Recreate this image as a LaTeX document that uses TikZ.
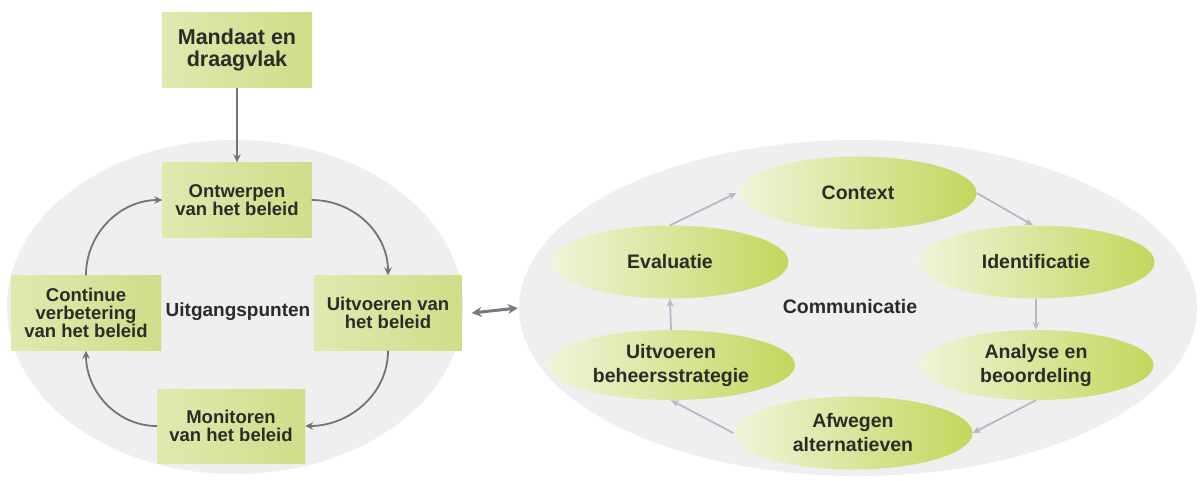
\documentclass[tikz,border=0pt]{standalone}
\usepackage{fontspec}
\setmainfont{Liberation Sans}
\usetikzlibrary{arrows.meta,shapes.geometric}
\definecolor{bggray}{HTML}{EFEFEF}
\definecolor{boxL}{HTML}{E0E9B0}
\definecolor{boxR}{HTML}{CEDE88}
\definecolor{ellL}{HTML}{F1F4DA}
\definecolor{ellR}{HTML}{C4D65C}
\definecolor{txt}{HTML}{2A2C28}
\definecolor{larrow}{HTML}{72747C}
\definecolor{rarrow}{HTML}{B2BACA}
\definecolor{darrow}{HTML}{767A82}
\tikzset{
  bgell/.style={ellipse, fill=bggray, inner sep=0pt},
  sqbox/.style={rectangle, left color=boxL, right color=boxR, inner sep=0pt,
    align=center, text=txt, font=\bfseries\fontsize{18.5}{18}\selectfont},
  topbox/.style={sqbox, font=\bfseries\fontsize{21.5}{22}\selectfont},
  gell/.style={ellipse, left color=ellL, right color=ellR, inner sep=0pt,
    minimum width=237pt, minimum height=73pt, align=center, text=txt,
    font=\bfseries\fontsize{19.5}{24}\selectfont},
  plain/.style={text=txt, font=\bfseries\fontsize{19}{22}\selectfont},
  larr/.style={draw=larrow, line width=1.8pt, -{Stealth[length=8pt,width=7.5pt]}},
  rarr/.style={draw=rarrow, line width=1.8pt, -{Stealth[length=8pt,width=7pt]}},
  darr/.style={draw=darrow, line width=3pt, {Stealth[length=10pt,width=10pt]}-{Stealth[length=10pt,width=10pt]}}
}
\begin{document}
\begin{tikzpicture}[x=1pt,y=-1pt]
\useasboundingbox (0,0) rectangle (1201,480);
\fill[white] (0,0) rectangle (1201,480);
% background ellipses
\node[bgell, minimum width=456pt, minimum height=334pt] (lbg) at (235,307) {};
\node[bgell, minimum width=678pt, minimum height=336pt] (rbg) at (858,308) {};
% left diagram
\node[topbox, minimum width=150pt, minimum height=75pt] (mand) at (237,50) {Mandaat en\\draagvlak};
\node[sqbox, minimum width=149pt, minimum height=75pt] (ontw) at (237,200) {Ontwerpen\\van het beleid};
\node[sqbox, minimum width=147pt, minimum height=75pt] (uitv) at (388,313) {Uitvoeren van\\het beleid};
\node[sqbox, minimum width=150pt, minimum height=75pt] (cont) at (86,313) {Continue\\verbetering\\van het beleid};
\node[sqbox, minimum width=148pt, minimum height=74pt] (moni) at (231,426) {Monitoren\\van het beleid};
\node[plain] (uitg) at (238,312) {Uitgangspunten};
\draw[larr] (mand.south) -- (ontw.north);
\draw[larr] (ontw.east) to[out=0,in=90] (uitv.north);
\draw[larr] (uitv.south) to[out=-90,in=0] (moni.east);
\draw[larr] (moni.west) to[out=180,in=-90] (cont.south);
\draw[larr] (cont.north) to[out=90,in=180] (ontw.west);
% right diagram
\node[gell] (ctx) at (858,193) {Context};
\node[gell] (eval) at (670,262) {Evaluatie};
\node[gell] (iden) at (1036,262) {Identificatie};
\node[gell, minimum width=248pt, minimum height=70pt] (ubeh) at (671,365) {Uitvoeren\\beheersstrategie};
\node[gell, minimum width=235pt, minimum height=70pt] (anal) at (1036,365) {Analyse en\\beoordeling};
\node[gell, minimum width=239pt] (afw) at (853,433) {Afwegen\\alternatieven};
\node[plain, font=\bfseries\fontsize{19.5}{22}\selectfont] (comm) at (850,307) {Communicatie};
\draw[rarr] (eval.north) -- ([xshift=-3pt]ctx.west);
\draw[rarr] (ctx.east) -- ([xshift=-3pt]iden.north);
\draw[rarr] (iden.south) -- (anal.north);
\draw[rarr] (anal.south) -- (afw.east);
\draw[rarr] (afw.west) -- (ubeh.south);
\draw[rarr] (ubeh.north) -- (eval.south);
% link
\draw[darr] ([xshift=10pt]uitv.east) -- ([xshift=-1pt]rbg.west);
\end{tikzpicture}
\end{document}
